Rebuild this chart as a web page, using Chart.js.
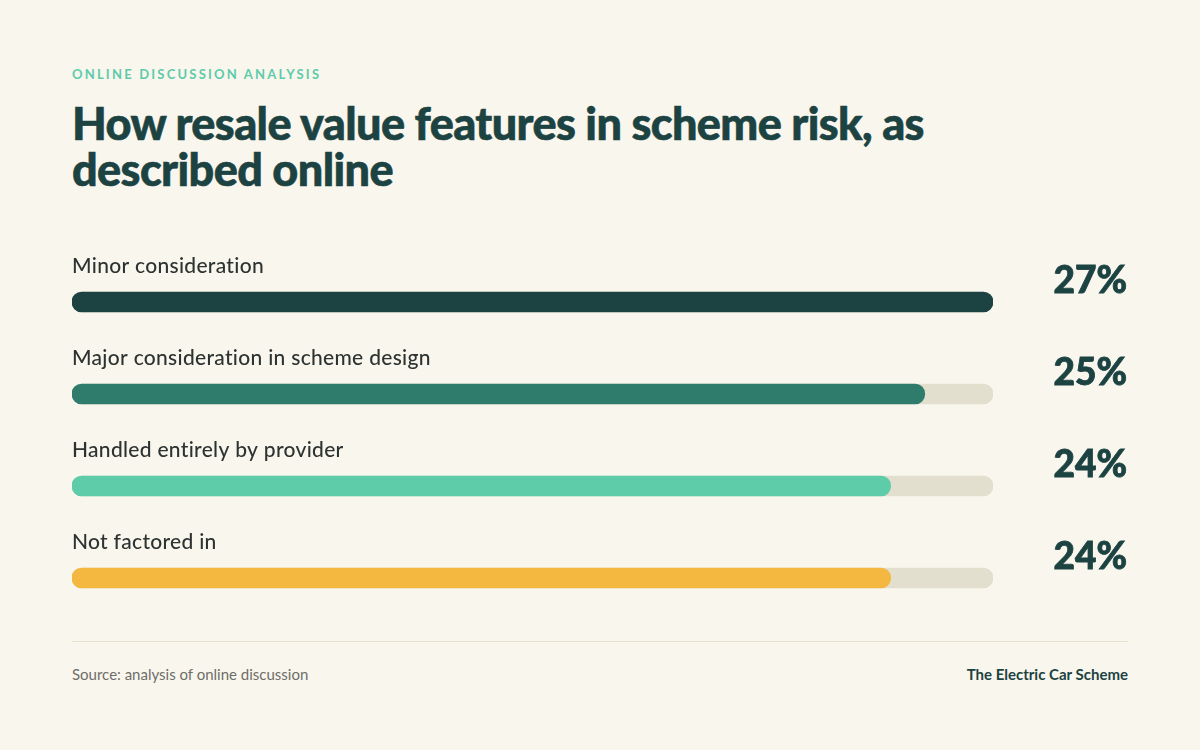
<!DOCTYPE html>
<html>
<head>
<meta charset="utf-8">
<script src="https://cdn.jsdelivr.net/npm/chart.js@4"></script>
<style>
  html, body { margin: 0; padding: 0; }
  body {
    width: 1200px; height: 750px; position: relative; overflow: hidden;
    background: #f9f6ee; font-family: Lato, "Noto Sans", sans-serif;
  }
  .eyebrow {
    position: absolute; left: 72px; top: 66px;
    font-size: 13px; font-weight: 700; letter-spacing: 2.2px;
    color: #5ecba9;
  }
  h1 {
    position: absolute; left: 72px; top: 100px; width: 900px; margin: 0;
    font-size: 45px; line-height: 46px; font-weight: 900; letter-spacing: -0.6px;
    color: #1c4342;
    -webkit-text-stroke: 0.6px #1c4342;
  }
  #wrap { position: absolute; left: 72px; top: 230px; width: 1056px; height: 400px; }
  .rule { position: absolute; left: 72px; top: 641px; width: 1056px; height: 1px; background: #e4e0cc; }
  .source { position: absolute; left: 72px; top: 665px; font-size: 15px; color: #6e6e68; }
  .brand { position: absolute; right: 72px; top: 665px; font-size: 15px; font-weight: 700; color: #1c4342; }
</style>
</head>
<body>
<div class="eyebrow">ONLINE DISCUSSION ANALYSIS</div>
<h1>How resale value features in scheme risk, as described online</h1>
<div id="wrap"><canvas id="chart"></canvas></div>
<div class="rule"></div>
<div class="source">Source: analysis of online discussion</div>
<div class="brand">The Electric Car Scheme</div>

<script>
// Data
var categories = ['Minor consideration', 'Major consideration in scheme design', 'Handled entirely by provider', 'Not factored in'];
var shares = [27, 25, 24, 24];
var barColors = ['#1c4342', '#2f7b6c', '#5ecba9', '#f4b740'];
var maxShare = 27;

// Category names above the bars and percentages on the right
var rowLabels = {
  id: 'rowLabels',
  afterDatasetsDraw: function(chart) {
    var ctx = chart.ctx;
    var yScale = chart.scales.y;
    var area = chart.chartArea;
    ctx.save();
    categories.forEach(function(name, i) {
      var y = yScale.getPixelForValue(i);
      ctx.fillStyle = '#2d3331';
      ctx.font = '500 21px Lato, sans-serif';
      ctx.letterSpacing = '0.3px';
      ctx.textAlign = 'left';
      ctx.textBaseline = 'alphabetic';
      ctx.fillText(name, area.left, y - 29);
      ctx.letterSpacing = '0px';
      ctx.fillStyle = '#1c4342';
      ctx.strokeStyle = '#1c4342';
      ctx.lineWidth = 0.8;
      ctx.font = '900 37px Lato, sans-serif';
      ctx.textAlign = 'right';
      ctx.textBaseline = 'middle';
      ctx.fillText(shares[i] + '%', chart.width - 1, y - 21);
      ctx.strokeText(shares[i] + '%', chart.width - 1, y - 21);
    });
    ctx.restore();
  }
};

var ctx = document.getElementById('chart').getContext('2d');
new Chart(ctx, {
  type: 'bar',
  data: {
    labels: categories,
    datasets: [{
      data: shares,
      backgroundColor: barColors,
      barThickness: 20,
      borderRadius: 10,
      borderSkipped: false,
      grouped: false,
      order: 1
    }, {
      data: categories.map(function() { return maxShare; }),
      backgroundColor: '#e2dfcf',
      barThickness: 20,
      borderRadius: 10,
      borderSkipped: false,
      grouped: false,
      order: 2
    }]
  },
  options: {
    indexAxis: 'y',
    responsive: true,
    maintainAspectRatio: false,
    animation: false,
    layout: { padding: { top: 26, bottom: 6, right: 135, left: 0 } },
    plugins: { legend: { display: false }, tooltip: { enabled: false } },
    scales: {
      x: { min: 0, max: maxShare, display: false },
      y: { display: false }
    }
  },
  plugins: [rowLabels]
});
</script>
</body>
</html>
